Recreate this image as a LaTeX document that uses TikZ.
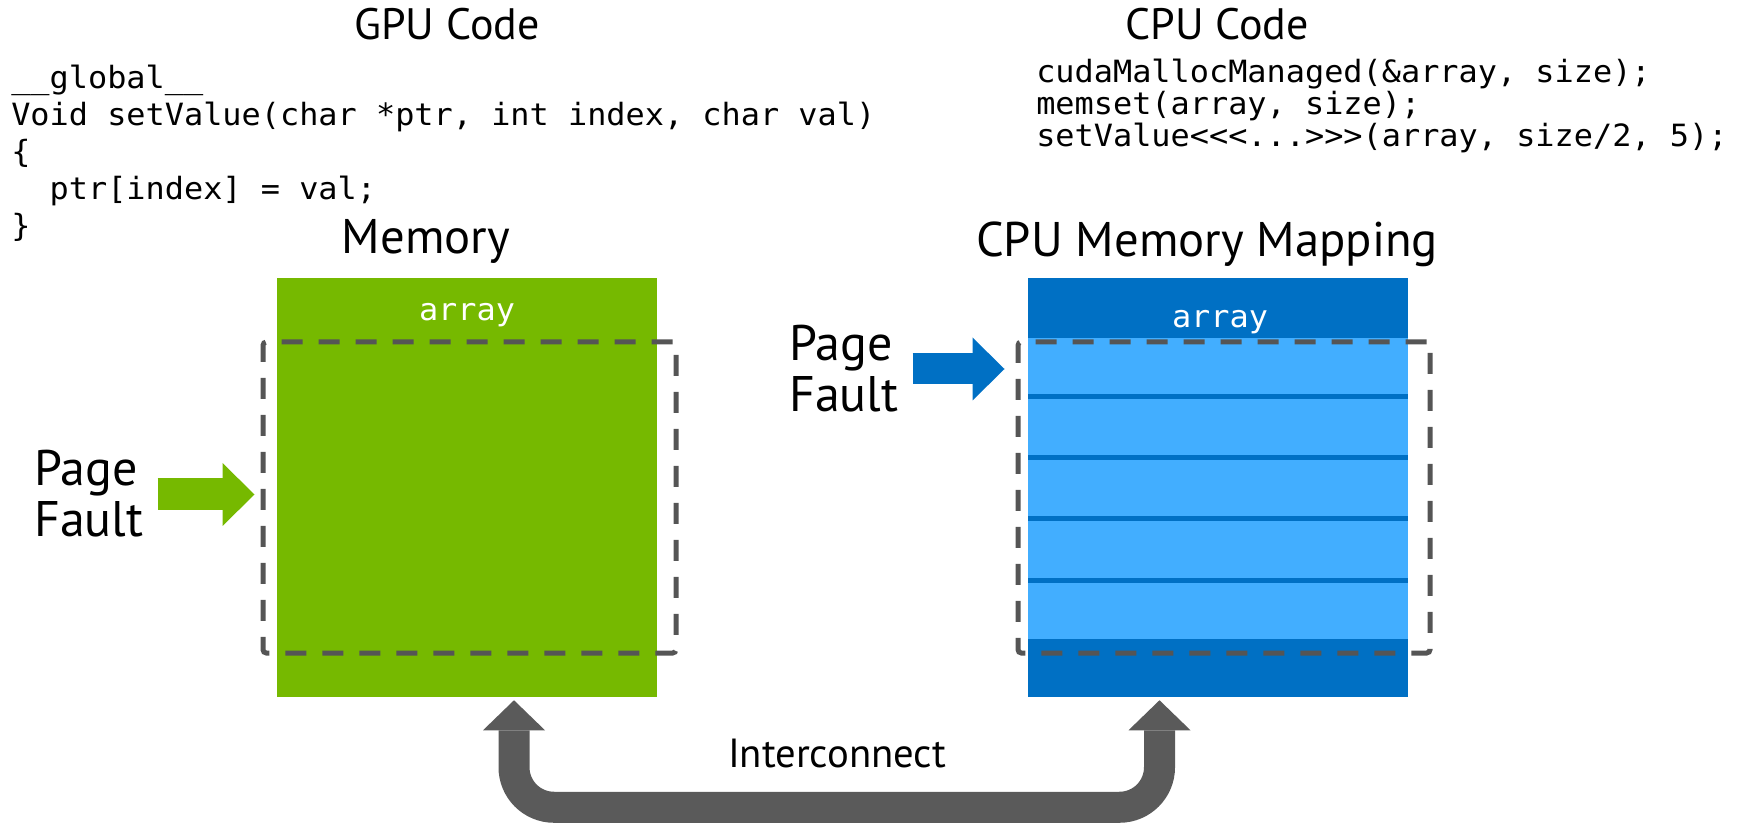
\documentclass[tikz,border=0pt]{standalone}
\usepackage{fontspec}
\setmainfont{PT Sans}
\newfontfamily\codefont{DejaVu Sans Mono}[FakeStretch=1.04]
\usetikzlibrary{arrows.meta,calc}

\definecolor{nvgreen}{HTML}{76B900}
\definecolor{cpublue}{HTML}{0070C4}
\definecolor{pageblue}{HTML}{42AEFF}
\definecolor{selgray}{HTML}{555555}
\definecolor{linkgray}{HTML}{5A5A5A}

\begin{document}
\begin{tikzpicture}[x=0.75pt,y=-0.75pt,
  title/.style={font=\fontsize{33}{40}\selectfont, anchor=base, inner sep=0pt},
  bigtitle/.style={title, font=\fontsize{36.5}{42}\selectfont},
  codetext/.style={font=\codefont\fontsize{23}{27.75}\selectfont, anchor=base west, inner sep=0pt},
  arraylabel/.style={font=\codefont\fontsize{23}{27.75}\selectfont, text=white, anchor=base, inner sep=0pt},
  faultlabel/.style={font=\fontsize{37.5}{38.25}\selectfont, anchor=base west, inner sep=0pt},
  membox/.style={rectangle, inner sep=0pt, minimum width=285pt, minimum height=314.25pt},
  pagebox/.style={rectangle, draw=selgray, line width=3.75pt, dash pattern=on 15.75pt off 12pt,
                  rounded corners=2.5pt, inner sep=0pt, minimum height=233.25pt},
  pfarrow/.style={line width=24pt, -{Triangle[length=24pt, width=47.25pt, line width=0pt]}},
  link/.style={draw=linkgray, line width=23.25pt, rounded corners=30pt,
               {Triangle[length=22.5pt, width=46.5pt, line width=0pt]}-{Triangle[length=22.5pt, width=46.5pt, line width=0pt]}}
]
\useasboundingbox (0,0) rectangle (1743,823);

% headings
\node[title] (gpucode) at (447,40) {GPU Code};
\node[title] (cpucode) at (1217,40) {CPU Code};
\node[bigtitle] (memtitle) at (426,254) {Memory};
\node[bigtitle] (maptitle) at (1207,257) {CPU Memory Mapping};

% source listings
\node[codetext] (kernel) at (11,89) {\begin{tabular}[t]{@{}l@{}}
\_\_global\_\_\\
Void setValue(char *ptr, int index, char val)\\
\{\\
\ \ ptr[index] = val;\\
\}
\end{tabular}};
\node[codetext, font=\codefont\fontsize{23}{21.5}\selectfont] (host) at (1036,83) {\begin{tabular}[t]{@{}l@{}}
cudaMallocManaged(\&array, size);\\
memset(array, size);\\
setValue<{}<{}<...>{}>{}>(array, size/2, 5);
\end{tabular}};

% GPU memory
\node[membox, fill=nvgreen] (gmem) at (467,487.5) {};
\node[arraylabel] (garr) at (467,321) {array};

% CPU memory mapping with its pages
\node[membox, fill=cpublue] (cmem) at (1218,487.5) {};
\fill[pageblue] ($(cmem.north west)+(0,60)$) rectangle ($(cmem.south east)+(0,-58)$);
\foreach \yy in {397,458,519,580}
  \fill[cpublue] (1028,\yy-2.5) rectangle (1408,\yy+2.5);
\node[arraylabel] (carr) at (1220,328) {array};

% faulting page ranges
\node[pagebox, minimum width=309.75pt] (gsel) at (469.5,497.5) {};
\node[pagebox, minimum width=309pt] (csel) at (1224,497.5) {};

% page fault markers
\node[faultlabel] (gpf) at (34,486) {\begin{tabular}[t]{@{}l@{}}Page\\Fault\end{tabular}};
\node[faultlabel] (cpf) at (789,361) {\begin{tabular}[t]{@{}l@{}}Page\\Fault\end{tabular}};
\coordinate (gtip) at ($(gsel.west)+(-6,-3)$);
\coordinate (ctip) at ($(csel.north west)+(-11,29.5)$);
\draw[pfarrow, nvgreen] ($(gtip)+(-97,0)$) -- (gtip);
\draw[pfarrow, cpublue, line width=23.25pt] ($(ctip)+(-92,0)$) -- (ctip);

% interconnect between the two memories
\coordinate (lt) at ($(gmem.south)+(47,3)$);
\coordinate (rt) at ($(cmem.south)+(-58.5,3)$);
\draw[link] (lt) |- ($(rt)+(0,107)$) -- (rt);
\node[font=\fontsize{30.5}{34}\selectfont, anchor=base, inner sep=0pt] (ic) at (837,767) {Interconnect};

\end{tikzpicture}
\end{document}
